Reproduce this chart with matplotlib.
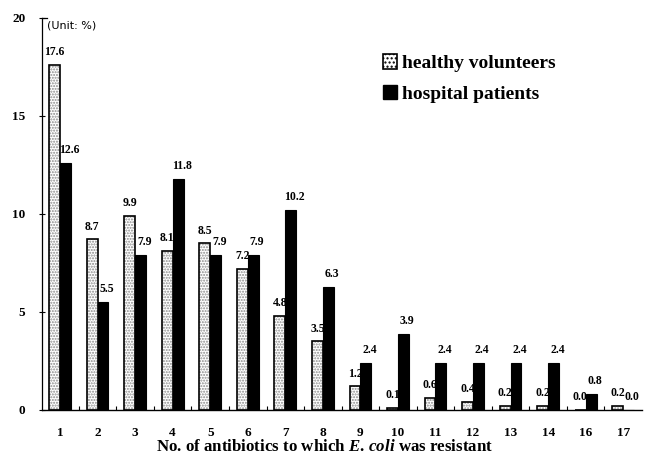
import matplotlib
matplotlib.use("Agg")
import matplotlib.pyplot as plt
import numpy as np
from matplotlib.patches import Patch

categories = ["1", "2", "3", "4", "5", "6", "7", "8", "9", "10", "11", "12", "13", "14", "16", "17"]
healthy = [17.6, 8.7, 9.9, 8.1, 8.5, 7.2, 4.8, 3.5, 1.2, 0.1, 0.6, 0.4, 0.2, 0.2, 0.0, 0.2]
hospital = [12.6, 5.5, 7.9, 11.8, 7.9, 7.9, 10.2, 6.3, 2.4, 3.9, 2.4, 2.4, 2.4, 2.4, 0.8, 0.0]
yticks = [0, 5, 10, 15, 20]

serif = "Liberation Serif"
plt.rcParams["font.family"] = serif
plt.rcParams["mathtext.fontset"] = "custom"
plt.rcParams["mathtext.rm"] = serif + ":bold"
plt.rcParams["mathtext.it"] = serif + ":bold:italic"
plt.rcParams["mathtext.bf"] = serif + ":bold"
plt.rcParams["mathtext.bfit"] = serif + ":bold:italic"

fig = plt.figure(figsize=(6.56, 4.63), dpi=100)
ax = fig.add_axes([42/656, 1 - 410/463, 600/656, (410 - 18)/463])

x = np.arange(len(categories))
w = 0.29
# healthy volunteers: stippled fill + black outline
ax.bar(x - w/2, healthy, width=w, color="white", hatch="......", edgecolor="#8a8a8a",
       linewidth=0, zorder=2)
ax.bar(x - w/2, healthy, width=w, color="none", edgecolor="black", linewidth=1.2, zorder=2)
# hospital patients
ax.bar(x + w/2, hospital, width=w, color="black", edgecolor="black", linewidth=0.8, zorder=4)

for xi, v in zip(x, healthy):
    ax.text(xi - w/2, v + 0.35, f"{v:.1f}", ha="center", va="bottom", fontsize=8.5,
            fontweight="bold", zorder=3)
for xi, v in zip(x, hospital):
    ax.text(xi + w/2 + 0.1, v + 0.35, f"{v:.1f}", ha="center", va="bottom", fontsize=8.5,
            fontweight="bold", zorder=5)

ax.set_xlim(-0.48, 15.5)
ax.set_ylim(0, 20)
ax.set_yticks(yticks)
ax.set_yticklabels([str(t) for t in yticks], fontsize=9.5, fontweight="bold")
ax.set_xticks(x)
ax.set_xticklabels(categories, fontsize=9.5, fontweight="bold")
ax.set_xticks(np.arange(len(categories) - 1) + 0.5, minor=True)
ax.tick_params(axis="x", which="major", length=0, pad=12)
ax.tick_params(axis="x", which="minor", direction="in", length=3, width=0.8)
ax.tick_params(axis="y", which="major", direction="inout", length=4, width=0.8, pad=10)

for s in ["top", "right"]:
    ax.spines[s].set_visible(False)
ax.spines["left"].set_linewidth(0.9)
ax.spines["bottom"].set_linewidth(1.0)
ax.plot([0, 0.008], [20, 20], transform=ax.get_yaxis_transform(), color="black",
        linewidth=0.9, clip_on=False)

ax.text(47/656, 1 - 25/463, "(Unit: %)", transform=fig.transFigure, fontsize=8,
        family="DejaVu Sans", va="center", ha="left")

ax.set_xlabel(r"No. of antibiotics to which $\mathit{E.\,coli}$ was resistant",
              fontsize=12.2, fontweight="bold")
ax.xaxis.set_label_coords((325 - 42) / 600, -0.075)

handles = [Patch(facecolor="white", hatch="....", edgecolor="black", linewidth=1.2),
           Patch(facecolor="black", edgecolor="black")]
leg = fig.legend(handles, ["healthy volunteers", "hospital patients"],
                 loc="upper left", bbox_to_anchor=(365/656, 1 - 37/463), frameon=False,
                 prop={"family": serif, "weight": "bold", "size": 14},
                 handlelength=0.75, handleheight=0.75, handletextpad=0.25, labelspacing=0.65)

fig.savefig("out.png", dpi=100)
